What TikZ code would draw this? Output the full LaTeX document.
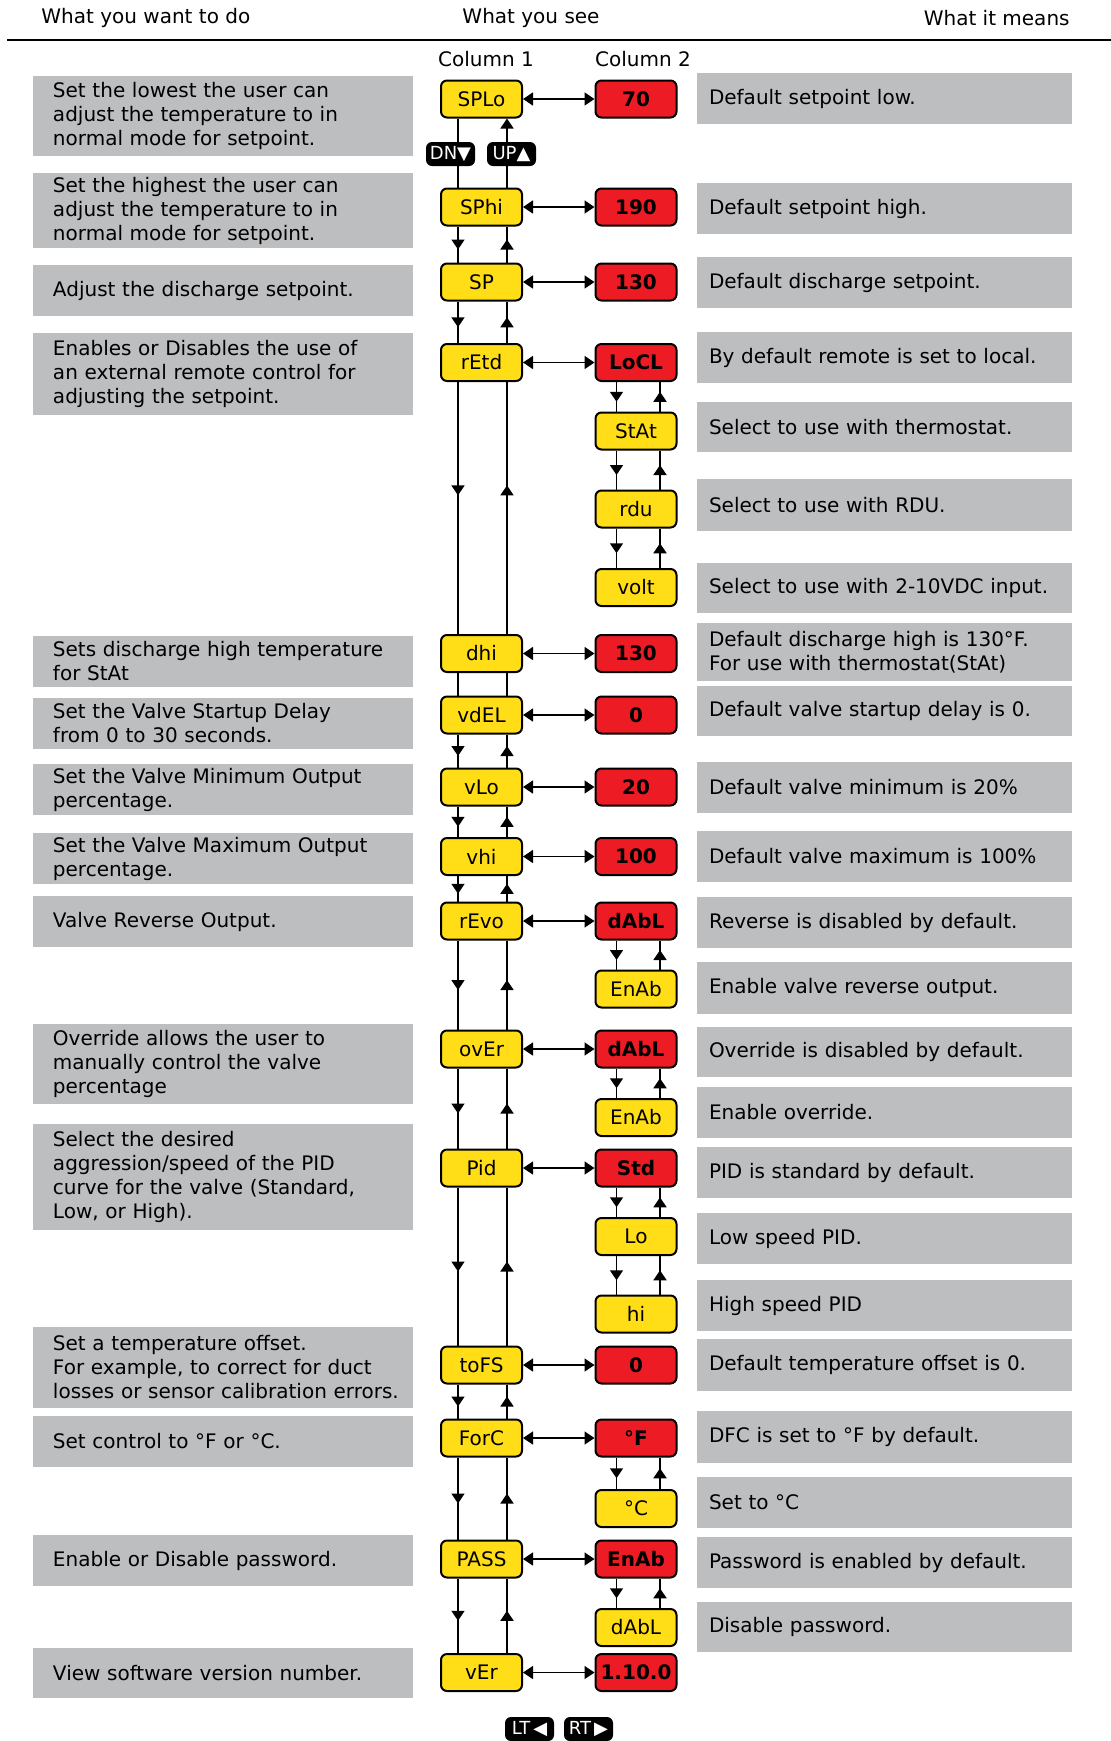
\documentclass[tikz,border=0pt]{standalone}
\usepackage{fontspec}
\setmainfont{DejaVu Sans}
\usetikzlibrary{arrows.meta,decorations.markings}
\definecolor{boxgray}{RGB}{188,190,192}
\definecolor{dispyellow}{RGB}{255,222,23}
\definecolor{dispred}{RGB}{237,28,36}
\newcommand\lbx[4]{\node[lbox,minimum height={(#3-#2)*0.5pt}] (#1) at (223,{(#2+#3)/2}) {#4};}
\newcommand\rbx[4]{\node[rbox,minimum height={(#3-#2)*0.5pt}] (#1) at (884.5,{(#2+#3)/2}) {#4};}
\newcommand\vlinks[6]{%
  \draw[conn,midarrow=#5] ([xshift=#3]#1.south) -- ([xshift=#3]#2.north);
  \draw[conn,midarrow=#6] ([xshift=#4]#2.north) -- ([xshift=#4]#1.south);}
\newcommand\cone[4]{\vlinks{#1}{#2}{-11.75pt}{12.75pt}{#3}{#4}}
\newcommand\ctwo[2]{\vlinks{#1}{#2}{-9.75pt}{12pt}{0.5}{0.5}}
\begin{document}
\begin{tikzpicture}[x=0.5pt,y=-0.5pt,
  font=\fontsize{10}{12}\selectfont,
  lbox/.style={fill=boxgray,text width=170pt,inner xsep=10pt,inner ysep=0pt,align=left},
  rbox/.style={fill=boxgray,text width=175.5pt,inner xsep=6pt,inner ysep=0pt,align=left},
  disp/.style={draw=black,line width=1pt,rounded corners=3pt,minimum width=40.5pt,minimum height=18.5pt,inner sep=0pt},
  ynode/.style={disp,fill=dispyellow},
  rnode/.style={disp,fill=dispred,font=\fontsize{10}{12}\selectfont\bfseries},
  conn/.style={line width=0.75pt},
  tip/.tip={Triangle[length=5pt,width=6.5pt]},
  dbl/.style={conn,tip-tip},
  midarrow/.style={postaction={decorate},decoration={markings,mark=at position #1 with {\arrow[xshift=2.5pt]{tip}}}},
  badge/.style={fill=black,rounded corners=3pt,text=white,minimum width=24.5pt,minimum height=12pt,inner sep=0pt,font=\fontsize{9}{10}\selectfont},
  plain/.style={inner sep=0pt}
]
\useasboundingbox (0,0) rectangle (1111,1741);
% header
\node[plain,anchor=west] (h1) at (41,18) {What you want to do};
\node[plain] (h2) at (531,18) {What you see};
\node[plain,anchor=east] (h3) at (1070,18) {What it means};
\draw[line width=1pt] (7,40) -- (1111,40);
\node[plain] (col1) at (486,59) {Column 1};
\node[plain] (col2) at (643,59) {Column 2};
% left boxes
\lbx{L1}{76}{156}{Set the lowest the user can\\adjust the temperature to in\\normal mode for setpoint.}
\lbx{L2}{173}{248}{Set the highest the user can\\adjust the temperature to in\\normal mode for setpoint.}
\lbx{L3}{265}{316}{Adjust the discharge setpoint.}
\lbx{L4}{333}{415}{Enables or Disables the use of\\an external remote control for\\adjusting the setpoint.}
\lbx{L5}{636}{687}{Sets discharge high temperature\\for StAt}
\lbx{L6}{698}{749}{Set the Valve Startup Delay\\from 0 to 30 seconds.}
\lbx{L7}{764}{815}{Set the Valve Minimum Output\\percentage.}
\lbx{L8}{833}{884}{Set the Valve Maximum Output\\percentage.}
\lbx{L9}{896}{947}{Valve Reverse Output.}
\lbx{L10}{1024}{1104}{Override allows the user to\\manually control the valve\\percentage}
\lbx{L11}{1124}{1230}{Select the desired\\aggression/speed of the PID\\curve for the valve (Standard,\\Low, or High).}
\lbx{L12}{1327}{1408}{Set a temperature offset.\\For example, to correct for duct\\\mbox{losses or sensor calibration errors.}}
\lbx{L13}{1416}{1467}{Set control to °F or °C.}
\lbx{L14}{1535}{1586}{Enable or Disable password.}
\lbx{L15}{1648}{1698}{View software version number.}
% right boxes
\rbx{R1}{73}{124}{Default setpoint low.}
\rbx{R2}{183}{234}{Default setpoint high.}
\rbx{R3}{257}{308}{Default discharge setpoint.}
\rbx{R4}{332}{383}{By default remote is set to local.}
\rbx{R5}{402}{452}{Select to use with thermostat.}
\rbx{R6}{479}{531}{Select to use with RDU.}
\rbx{R7}{563}{613}{Select to use with 2-10VDC input.}
\rbx{R8}{623}{681}{Default discharge high is 130°F.\\For use with thermostat(StAt)}
\rbx{R9}{686}{736}{Default valve startup delay is 0.}
\rbx{R10}{762}{813}{Default valve minimum is 20\%}
\rbx{R11}{831}{882}{Default valve maximum is 100\%}
\rbx{R12}{897}{948}{Reverse is disabled by default.}
\rbx{R13}{962}{1014}{Enable valve reverse output.}
\rbx{R14}{1027}{1077}{Override is disabled by default.}
\rbx{R15}{1087}{1138}{Enable override.}
\rbx{R16}{1147}{1198}{PID is standard by default.}
\rbx{R17}{1213}{1264}{Low speed PID.}
\rbx{R18}{1280}{1331}{High speed PID}
\rbx{R19}{1339}{1391}{Default temperature offset is 0.}
\rbx{R20}{1411}{1463}{DFC is set to °F by default.}
\rbx{R21}{1477}{1528}{Set to °C}
\rbx{R22}{1537}{1588}{Password is enabled by default.}
\rbx{R23}{1602}{1652}{Disable password.}
% column 1
\node[ynode] (SPLo) at (481.5,99) {SPLo};
\node[ynode] (SPhi) at (481.5,207) {SPhi};
\node[ynode] (SP) at (481.5,282) {SP};
\node[ynode] (rEtd) at (481.5,362.5) {rEtd};
\node[ynode] (dhi) at (481.5,653.5) {dhi};
\node[ynode] (vdEL) at (481.5,715) {vdEL};
\node[ynode] (vLo) at (481.5,787) {vLo};
\node[ynode] (vhi) at (481.5,856.5) {vhi};
\node[ynode] (rEvo) at (481.5,921) {rEvo};
\node[ynode] (ovEr) at (481.5,1049) {ovEr};
\node[ynode] (Pid) at (481.5,1168) {Pid};
\node[ynode] (toFS) at (481.5,1365) {toFS};
\node[ynode] (ForC) at (481.5,1438) {ForC};
\node[ynode] (PASS) at (481.5,1559) {PASS};
\node[ynode] (vEr) at (481.5,1672.5) {vEr};
% column 2
\node[rnode] (v70) at (636,99) {70};
\node[rnode] (v190) at (636,207) {190};
\node[rnode] (v130a) at (636,282) {130};
\node[rnode] (LoCL) at (636,362.5) {LoCL};
\node[ynode] (StAt) at (636,431) {StAt};
\node[ynode] (rdu) at (636,509) {rdu};
\node[ynode] (volt) at (636,587.5) {volt};
\node[rnode] (v130b) at (636,653.5) {130};
\node[rnode] (v0a) at (636,715) {0};
\node[rnode] (v20) at (636,787) {20};
\node[rnode] (v100) at (636,856.5) {100};
\node[rnode] (dAbLa) at (636,921) {dAbL};
\node[ynode] (EnAba) at (636,989) {EnAb};
\node[rnode] (dAbLb) at (636,1049) {dAbL};
\node[ynode] (EnAbb) at (636,1117.5) {EnAb};
\node[rnode] (Std) at (636,1168) {Std};
\node[ynode] (Lo) at (636,1236.5) {Lo};
\node[ynode] (hi) at (636,1314) {hi};
\node[rnode] (v0b) at (636,1365) {0};
\node[rnode] (degF) at (636,1438) {°F};
\node[ynode] (degC) at (636,1508.5) {°C};
\node[rnode] (EnAbc) at (636,1559) {EnAb};
\node[ynode] (dAbLc) at (636,1627.5) {dAbL};
\node[rnode] (ver) at (636,1672.5) {1.10.0};
% horizontal links
\foreach \a/\b in {SPLo/v70,SPhi/v190,SP/v130a,rEtd/LoCL,dhi/v130b,vdEL/v0a,vLo/v20,vhi/v100,rEvo/dAbLa,ovEr/dAbLb,Pid/Std,toFS/v0b,ForC/degF,PASS/EnAbc,vEr/ver}
  \draw[dbl] (\a.east) -- (\b.west);
% column 1 vertical links
\draw[conn] ([xshift=-11.75pt]SPLo.south) -- ([xshift=-11.75pt]SPhi.north);
\draw[conn,-tip] ([xshift=12.75pt]SPhi.north) -- ([xshift=12.75pt]SPLo.south);
\cone{SPhi}{SP}{0.5}{0.5}
\cone{SP}{rEtd}{0.5}{0.5}
\cone{rEtd}{dhi}{0.43}{0.57}
\draw[conn] ([xshift=-11.75pt]dhi.south) -- ([xshift=-11.75pt]vdEL.north);
\draw[conn] ([xshift=12.75pt]vdEL.north) -- ([xshift=12.75pt]dhi.south);
\cone{vdEL}{vLo}{0.5}{0.5}
\cone{vLo}{vhi}{0.5}{0.5}
\cone{vhi}{rEvo}{0.5}{0.5}
\cone{rEvo}{ovEr}{0.5}{0.5}
\cone{ovEr}{Pid}{0.5}{0.5}
\cone{Pid}{toFS}{0.5}{0.5}
\cone{toFS}{ForC}{0.5}{0.5}
\cone{ForC}{PASS}{0.5}{0.5}
\cone{PASS}{vEr}{0.5}{0.5}
% column 2 vertical links
\ctwo{LoCL}{StAt}
\ctwo{StAt}{rdu}
\ctwo{rdu}{volt}
\ctwo{dAbLa}{EnAba}
\ctwo{dAbLb}{EnAbb}
\ctwo{Std}{Lo}
\ctwo{Lo}{hi}
\ctwo{degF}{degC}
\ctwo{EnAbc}{dAbLc}
% badges
\node[badge] (dnb) at (450.5,154) {DN▼};
\node[badge] (upb) at (511.5,154) {UP▲};
\node[badge] (ltb) at (529.5,1729) {LT\,◀};
\node[badge] (rtb) at (588.5,1729) {RT\,▶};
\end{tikzpicture}
\end{document}
